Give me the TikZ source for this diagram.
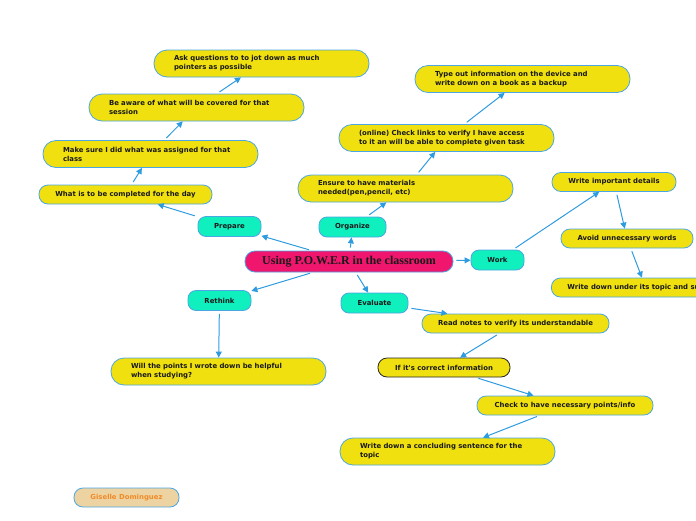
\documentclass[tikz,border=0pt]{standalone}
\usepackage{fontspec}
\newfontfamily\mapfont{DejaVu Sans}
\newfontfamily\titlefont{Liberation Serif}
\usetikzlibrary{arrows.meta}
\definecolor{topicyel}{HTML}{F0E00F}
\definecolor{phaseteal}{HTML}{10EFBE}
\definecolor{centrepink}{HTML}{F0166E}
\definecolor{rimblue}{HTML}{4BA6E2}
\definecolor{linkblue}{HTML}{2E9BE0}
\definecolor{authtan}{HTML}{EDD3A1}
\definecolor{authorange}{HTML}{F08B2A}

\begin{document}
\begin{tikzpicture}[
  x=1pt, y=-1pt,
  note/.style={
    rectangle, draw=rimblue, line width=0.8pt, fill=topicyel, rounded corners=9pt,
    minimum height=19pt, inner xsep=16pt, inner ysep=0pt,
    font=\mapfont\bfseries\fontsize{6.9}{9}\selectfont, text=black!90},
  longnote/.style={
    note, rounded corners=13pt, minimum height=27pt,
    text width=175pt, inner xsep=20pt, align=left},
  phase/.style={
    note, fill=phaseteal, rounded corners=8pt, minimum height=20pt},
  link/.style={-{Triangle[length=6pt,width=6pt]}, linkblue, line width=1pt, shorten <=3pt}
]
\useasboundingbox (0,0) rectangle (696,520);
% ── Centre ──
\node[note, fill=centrepink, minimum width=208pt, minimum height=21pt, rounded corners=10pt,
      font=\titlefont\bfseries\fontsize{12}{13}\selectfont] (ctr) at (349,261.5)
  {Using P.O.W.E.R in the classroom};
% ── Prepare ──
\node[phase, minimum width=63pt] (prep) at (229.5,226.5) {Prepare};
\node[note, minimum width=173pt] (daygoal) at (125.5,194.5) {What is to be completed for the day};
\node[longnote] (assigned) at (150.5,154) {Make sure I did what was assigned for that\\class};
\node[longnote] (aware) at (196.5,107.5) {Be aware of what will be covered for that\\session};
\node[longnote] (askq) at (261.5,63.5) {Ask questions to to jot down as much\\pointers as possible};
% ── Organize ──
\node[phase, minimum width=67pt] (org) at (352.5,227) {Organize};
\node[longnote] (materials) at (405.5,188.5) {Ensure to have materials\\needed(pen,pencil, etc)};
\node[longnote] (links) at (446.5,138) {(online) Check links to verify I have access\\to it an will be able to complete given task};
\node[longnote] (backup) at (522.5,79) {Type out information on the device and\\write down on a book as a backup};
% ── Work ──
\node[phase, minimum width=53pt] (work) at (497.5,260) {Work};
\node[note, minimum width=124pt] (details) at (614,182) {Write important details};
\node[note, minimum width=132pt] (avoid) at (627,238.5) {Avoid unnecessary words};
\node[note, anchor=west] (subtopic) at (551,287.5) {Write down under its topic and subtopic};
% ── Rethink ──
\node[phase, minimum width=63pt] (rethink) at (219.5,300.5) {Rethink};
\node[longnote] (helpful) at (218.5,371.5) {Will the points I wrote down be helpful\\when studying?};
% ── Evaluate ──
\node[phase, minimum width=67pt] (eval) at (374.5,303) {Evaluate};
\node[note, minimum width=187pt] (readnotes) at (515.5,323.5) {Read notes to verify its understandable};
\node[note, draw=black!85, minimum width=132pt] (correct) at (444,367.5) {If it\textquotesingle s correct information};
\node[note, minimum width=176pt] (points) at (565,405.5) {Check to have necessary points/info};
\node[longnote] (conclude) at (447.5,451.5) {Write down a concluding sentence for the\\topic};
% ── Author ──
\node[note, fill=authtan, text=authorange, minimum width=105pt] (author) at (126.5,497.5) {Giselle Dominguez};
% ── Links ──
\draw[link] (ctr) -- (prep);
\draw[link] (prep) -- (daygoal);
\draw[link] (daygoal) -- (assigned);
\draw[link] (assigned) -- (aware);
\draw[link] (aware) -- (askq);
\draw[link] (ctr) -- (org);
\draw[link] (org) -- (materials);
\draw[link] (materials) -- (links);
\draw[link] (links) -- (backup);
\draw[link] (ctr) -- (work);
\draw[link] (work) -- (details);
\draw[link] (details) -- (avoid);
\draw[link] (avoid) -- (subtopic);
\draw[link] (ctr) -- (rethink);
\draw[link] (rethink) -- (helpful);
\draw[link] (ctr) -- (eval);
\draw[link] (eval) -- (readnotes);
\draw[link] (readnotes) -- (correct);
\draw[link] (correct) -- (points);
\draw[link] (points) -- (conclude);
\end{tikzpicture}
\end{document}
